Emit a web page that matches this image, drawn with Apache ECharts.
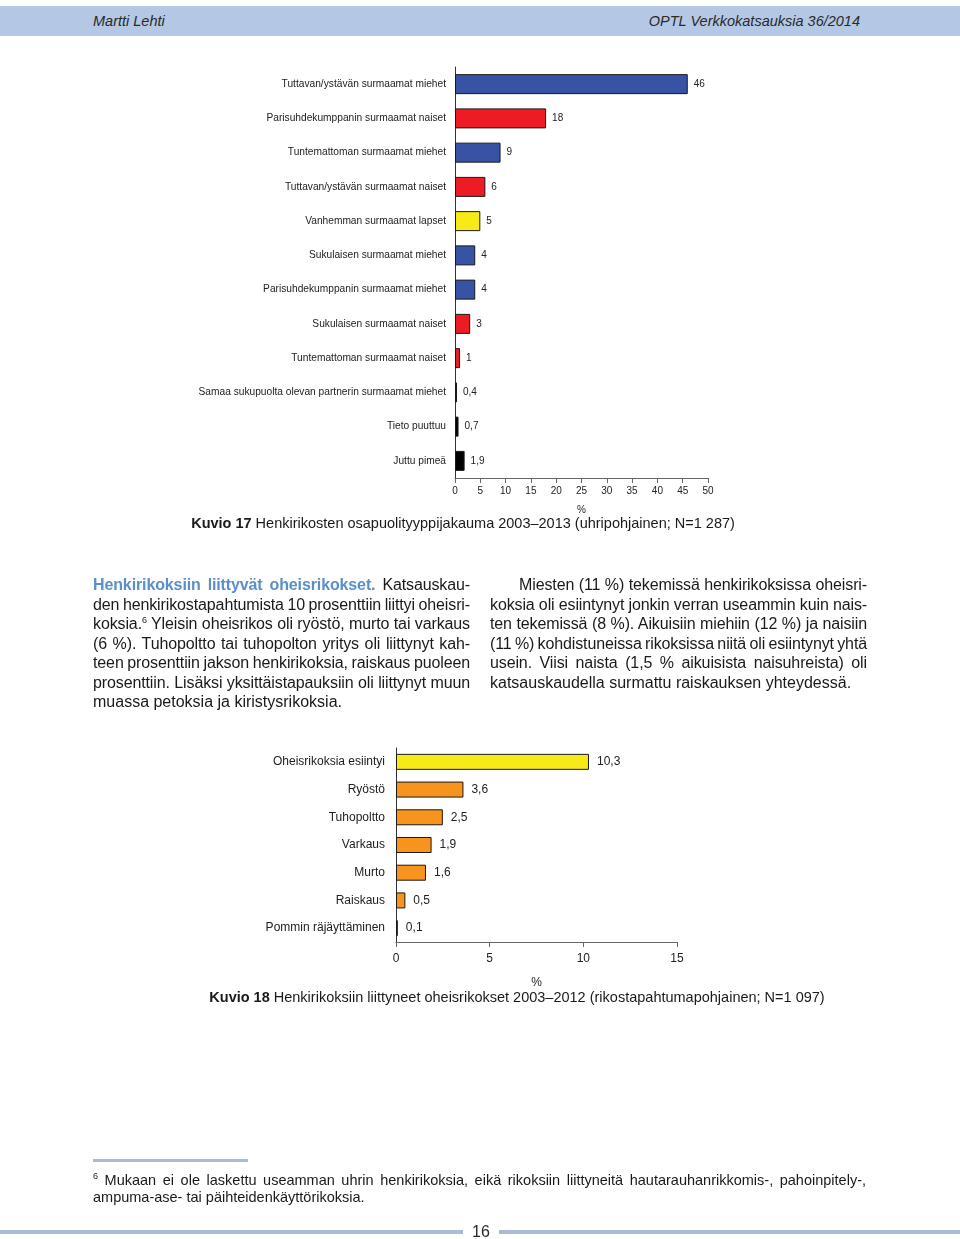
<!DOCTYPE html>
<html>
<head>
<meta charset="utf-8">
<script src="https://cdn.jsdelivr.net/npm/echarts@6/dist/echarts.min.js"></script>
<style>
  html, body { margin: 0; padding: 0; background: #fff; }
  body { width: 960px; height: 1239px; position: relative; overflow: hidden;
         font-family: "Liberation Sans", Arial, Helvetica, sans-serif; color: #1a1a1a; }
  #chart { position: absolute; left: 0; top: 0; width: 960px; height: 1239px; }
  .abs { position: absolute; }
  .band { left: 0; top: 6px; width: 960px; height: 30px; background: #b4c8e6; }
  .hdr { top: 6px; line-height: 30px; font-size: 14.5px; font-style: italic; color: #2a2a2a; }
  .col { font-size: 16px; line-height: 19.5px; color: #1a1a1a; letter-spacing: -0.12px; }
  .col div { text-align: justify; text-align-last: justify; white-space: nowrap; word-spacing: -2.5px; }
  .col div.last { text-align-last: left; word-spacing: 0; letter-spacing: 0; }
  .lead { color: #5b8fc8; font-weight: bold; }
  .cap { font-size: 14.5px; line-height: 18px; text-align: center; color: #1a1a1a; }
  .foot { font-size: 14.5px; line-height: 17px; color: #1a1a1a; }
  .foot div { text-align: justify; text-align-last: justify; white-space: nowrap; }
  .foot div.last { text-align-last: left; }
  sup { font-size: 9px; vertical-align: 6px; line-height: 0; }
  .rule { background: #a9bcd6; }
</style>
</head>
<body>
<div id="chart"></div>

<div class="abs band"></div>
<div class="abs hdr" style="left:93px;">Martti Lehti</div>
<div class="abs hdr" style="right:100px;">OPTL Verkkokatsauksia 36/2014</div>

<div class="abs cap" style="left:0; width:926px; top:514px;"><b>Kuvio 17</b> Henkirikosten osapuolityyppijakauma 2003–2013 (uhripohjainen; N=1 287)</div>

<div class="abs col" style="left:93px; width:377px; top:575px;">
  <div><span class="lead">Henkirikoksiin liittyvät oheisrikokset.</span> Katsauskau-</div>
  <div>den henkirikostapahtumista 10 prosenttiin liittyi oheisri-</div>
  <div>koksia.<sup>6</sup> Yleisin oheisrikos oli ryöstö, murto tai varkaus</div>
  <div>(6 %). Tuhopoltto tai tuhopolton yritys oli liittynyt kah-</div>
  <div>teen prosenttiin jakson henkirikoksia, raiskaus puoleen</div>
  <div>prosenttiin. Lisäksi yksittäistapauksiin oli liittynyt muun</div>
  <div class="last">muassa petoksia ja kiristysrikoksia.</div>
</div>

<div class="abs col" style="left:490px; width:377px; top:575px;">
  <div style="padding-left:29px;">Miesten (11 %) tekemissä henkirikoksissa oheisri-</div>
  <div>koksia oli esiintynyt jonkin verran useammin kuin nais-</div>
  <div>ten tekemissä (8 %). Aikuisiin miehiin (12 %) ja naisiin</div>
  <div>(11 %) kohdistuneissa rikoksissa niitä oli esiintynyt yhtä</div>
  <div>usein. Viisi naista (1,5 % aikuisista naisuhreista) oli</div>
  <div class="last">katsauskaudella surmattu raiskauksen yhteydessä.</div>
</div>

<div class="abs cap" style="left:0; width:1034px; top:988px;"><b>Kuvio 18</b> Henkirikoksiin liittyneet oheisrikokset 2003–2012 (rikostapahtumapohjainen; N=1 097)</div>

<div class="abs rule" style="left:93px; top:1159px; width:155px; height:3px;"></div>
<div class="abs foot" style="left:93px; width:773px; top:1172px;">
  <div><sup>6</sup> Mukaan ei ole laskettu useamman uhrin henkirikoksia, eikä rikoksiin liittyneitä hautarauhanrikkomis-, pahoinpitely-,</div>
  <div class="last">ampuma-ase- tai päihteidenkäyttörikoksia.</div>
</div>

<div class="abs rule" style="left:0; top:1230px; width:463px; height:4px;"></div>
<div class="abs rule" style="left:499px; top:1230px; width:461px; height:4px;"></div>
<div class="abs" style="left:463px; width:36px; top:1222px; line-height:20px; text-align:center; font-size:16px; color:#2a2a2a;">16</div>

<script>
// ---- Data: Kuvio 17 ----
const cat1 = [
  'Tuttavan/ystävän surmaamat miehet',
  'Parisuhdekumppanin surmaamat naiset',
  'Tuntemattoman surmaamat miehet',
  'Tuttavan/ystävän surmaamat naiset',
  'Vanhemman surmaamat lapset',
  'Sukulaisen surmaamat miehet',
  'Parisuhdekumppanin surmaamat miehet',
  'Sukulaisen surmaamat naiset',
  'Tuntemattoman surmaamat naiset',
  'Samaa sukupuolta olevan partnerin surmaamat miehet',
  'Tieto puuttuu',
  'Juttu pimeä'
];
const val1 = [46, 18, 9, 6, 5, 4, 4, 3, 1, 0.4, 0.7, 1.9];
const group1 = ['men','women','men','women','child','men','men','women','women','men','unknown','unknown'];
const ticks1 = [0, 5, 10, 15, 20, 25, 30, 35, 40, 45, 50];

// ---- Data: Kuvio 18 ----
const cat2 = ['Oheisrikoksia esiintyi','Ryöstö','Tuhopoltto','Varkaus','Murto','Raiskaus','Pommin räjäyttäminen'];
const val2 = [10.3, 3.6, 2.5, 1.9, 1.6, 0.5, 0.1];
const group2 = ['total','part','part','part','part','part','part'];
const ticks2 = [0, 5, 10, 15];

// ---- Styles ----
const palette = {
  men: '#3953a4', women: '#ed1c24', child: '#f6eb16', unknown: '#000000',
  total: '#f6eb16', part: '#f7941d'
};
const fmt = v => String(v).replace('.', ',');
const FONT = '"Liberation Sans", Arial, Helvetica, sans-serif';

const chart = echarts.init(document.getElementById('chart'), null, { renderer: 'canvas' });

function barData(vals, groups) {
  return vals.map((v, i) => ({
    value: v,
    itemStyle: { color: palette[groups[i]], borderColor: '#1a1a1a', borderWidth: 1 }
  }));
}

chart.setOption({
  animation: false,
  textStyle: { fontFamily: FONT },
  grid: [
    { left: 455, top: 67, width: 253, height: 411, containLabel: false },
    { left: 396, top: 748, width: 281, height: 194, containLabel: false }
  ],
  xAxis: [
    {
      gridIndex: 0, type: 'value', min: ticks1[0], max: ticks1[ticks1.length - 1], interval: 5,
      splitLine: { show: false },
      axisLine: { show: true, lineStyle: { color: '#666', width: 1 } },
      axisTick: { show: true, length: 5, lineStyle: { color: '#666' } },
      axisLabel: { fontSize: 10, color: '#222', margin: 8, fontFamily: FONT },
      name: '%', nameLocation: 'middle', nameGap: 27,
      nameTextStyle: { fontSize: 10, color: '#222', fontFamily: FONT }
    },
    {
      gridIndex: 1, type: 'value', min: ticks2[0], max: ticks2[ticks2.length - 1], interval: 5,
      splitLine: { show: false },
      axisLine: { show: true, lineStyle: { color: '#666', width: 1 } },
      axisTick: { show: true, length: 5, lineStyle: { color: '#666' } },
      axisLabel: { fontSize: 12, color: '#222', margin: 11, fontFamily: FONT },
      name: '%', nameLocation: 'middle', nameGap: 35,
      nameTextStyle: { fontSize: 12, color: '#222', fontFamily: FONT }
    }
  ],
  yAxis: [
    {
      gridIndex: 0, type: 'category', data: cat1, inverse: true,
      axisLine: { show: true, lineStyle: { color: '#333', width: 1 } },
      axisTick: { show: false },
      axisLabel: { fontSize: 10.2, color: '#222', margin: 9, fontFamily: FONT }
    },
    {
      gridIndex: 1, type: 'category', data: cat2, inverse: true,
      axisLine: { show: true, lineStyle: { color: '#333', width: 1 } },
      axisTick: { show: false },
      axisLabel: { fontSize: 12, color: '#222', margin: 11, fontFamily: FONT }
    }
  ],
  series: [
    {
      type: 'bar', xAxisIndex: 0, yAxisIndex: 0, barWidth: 20,
      data: barData(val1, group1),
      label: { show: true, position: 'right', distance: 6, fontSize: 10, color: '#222',
               fontFamily: FONT, formatter: p => fmt(p.value) }
    },
    {
      type: 'bar', xAxisIndex: 1, yAxisIndex: 1, barWidth: 16,
      data: barData(val2, group2),
      label: { show: true, position: 'right', distance: 8, fontSize: 12, color: '#222',
               fontFamily: FONT, formatter: p => fmt(p.value) }
    }
  ]
});
</script>
</body>
</html>
